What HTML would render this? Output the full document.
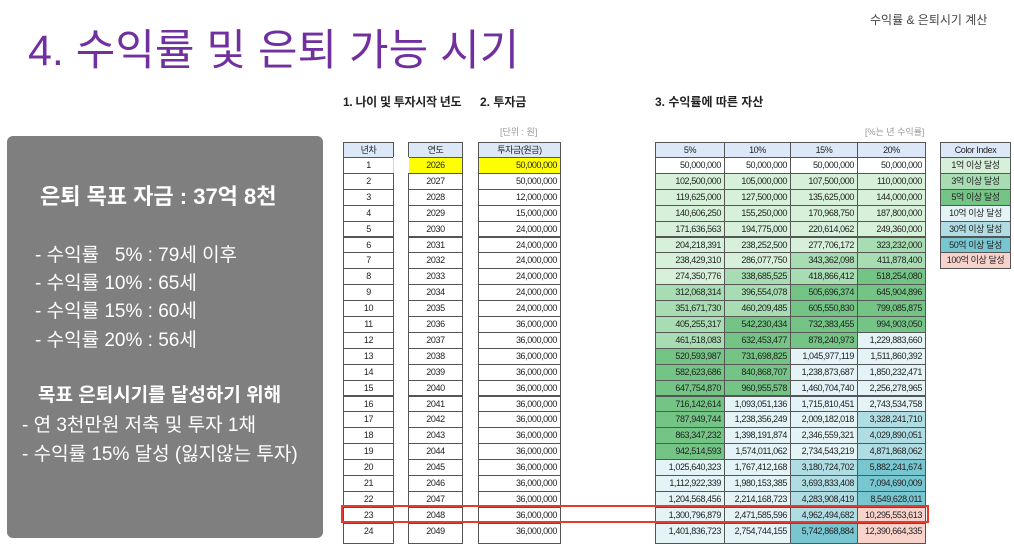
<!DOCTYPE html>
<html><head><meta charset="utf-8">
<style>
body{margin:0;width:1014px;height:547px;overflow:hidden;background:#fff;position:relative;font-family:"Liberation Sans","Noto Sans CJK KR",sans-serif;}
.a{position:absolute;white-space:nowrap;}
.c{position:absolute;box-sizing:border-box;border:1px solid #555;font-size:9px;letter-spacing:-0.4px;line-height:14px;color:#222;padding:0 3px;overflow:hidden;white-space:nowrap;}
.w{color:#fff;font-size:19px;}
</style></head><body>
<div class="a" style="left:28px;top:16px;font-size:43px;color:#7030a0;">4. 수익률 및 은퇴 가능 시기</div>
<div class="a" style="left:870px;top:11px;font-size:12px;color:#444;">수익률 &amp; 은퇴시기 계산</div>
<div class="a" style="left:343px;top:93px;font-size:12px;font-weight:bold;color:#222;letter-spacing:-0.3px;">1. 나이 및 투자시작 년도</div>
<div class="a" style="left:480px;top:93px;font-size:12px;font-weight:bold;color:#222;">2. 투자금</div>
<div class="a" style="left:655px;top:93px;font-size:12px;font-weight:bold;color:#222;">3. 수익률에 따른 자산</div>
<div class="a" style="left:500px;top:125px;font-size:9px;color:#999;">[단위 : 원]</div>
<div class="a" style="left:865px;top:125px;font-size:9px;color:#999;">[%는 년 수익률]</div>

<div class="a" style="left:7px;top:136px;width:316px;height:402px;background:#7f7f7f;border-radius:6px;"></div>
<div class="a w" style="left:40px;top:179px;font-size:22px;font-weight:bold;">은퇴 목표 자금 : 37억 8천</div>
<div class="a w" style="left:35px;top:240px;">- 수익률 &nbsp;&nbsp;5% : 79세 이후</div>
<div class="a w" style="left:35px;top:268px;">- 수익률 10% : 65세</div>
<div class="a w" style="left:35px;top:296px;">- 수익률 15% : 60세</div>
<div class="a w" style="left:35px;top:325px;">- 수익률 20% : 56세</div>
<div class="a w" style="left:38px;top:380px;font-weight:bold;">목표 은퇴시기를 달성하기 위해</div>
<div class="a w" style="left:22px;top:410px;">- 연 3천만원 저축 및 투자 1채</div>
<div class="a w" style="left:22px;top:439px;">- 수익률 15% 달성 (잃지않는 투자)</div>

<div id="t"></div>
<div class="a" style="left:341px;top:505px;width:588px;height:18px;box-sizing:border-box;border:2px solid #e8392e;"></div>
<script>
var H=15.9,T0=142,out='';
function cell(x,y,w,h,txt,bg,al){out+='<div class="c" style="left:'+x+'px;top:'+y+'px;width:'+(w+1)+'px;height:'+(h+1)+'px;background:'+bg+';text-align:'+al+'">'+txt+'</div>';}
var inv=[50,50,12,15,24,24,24,24,24,24];while(inv.length<24)inv.push(36);
var hb='#dce8f8';
cell(343,T0,50,15,'년차',hb,'center');cell(408,T0,54,15,'연도',hb,'center');cell(478,T0,82,15,'투자금(원금)',hb,'center');
var rc=[[655,69],[724,66],[790,67],[857,68]],rates=[5,10,15,20];
for(var k=0;k<4;k++)cell(rc[k][0],T0,rc[k][1],15,rates[k]+'%',hb,'center');
cell(940,T0,70,15,'Color Index',hb,'center');
var ci=[['1억 이상 달성','#d6f0da'],['3억 이상 달성','#a8dcb2'],['5억 이상 달성','#74c585'],['10억 이상 달성','#e3f3f6'],['30억 이상 달성','#b0dde3'],['50억 이상 달성','#78c6d0'],['100억 이상 달성','#f8d3cc']];
for(var i=0;i<7;i++)cell(940,T0+15+i*H,70,H,ci[i][0],ci[i][1],'center');
function col(v){if(v>=1e10)return '#f8d3cc';if(v>=5e9)return '#78c6d0';if(v>=3e9)return '#b0dde3';if(v>=1e9)return '#e3f3f6';if(v>=5e8)return '#74c585';if(v>=3e8)return '#a8dcb2';if(v>=1e8)return '#d6f0da';return '#fff';}
function f(v){return Math.round(v).toLocaleString('en-US');}
var V=[0,0,0,0];
for(var r=0;r<24;r++){
 var y=T0+15+r*H,h=(r==23)?H+4:H;
 cell(343,y,50,h,r+1,'#fff','center');
 cell(408,y,54,h,2026+r,r==0?'#ffff00':'#fff','center');
 if(r==0)out+='<div class="a" style="left:393px;top:'+y+'px;width:15px;height:16px;background:#fff;border-left:1px solid #ee0"></div>';
 cell(478,y,82,h,f(inv[r]*1e6),r==0?'#ffff00':'#fff','right');
 for(k=0;k<4;k++){V[k]=r==0?5e7:V[k]*(1+rates[k]/100)+inv[r]*1e6;cell(rc[k][0],y,rc[k][1],h,f(V[k]),col(V[k]),'right');}
}
document.getElementById('t').innerHTML=out;
</script>
</body></html>
